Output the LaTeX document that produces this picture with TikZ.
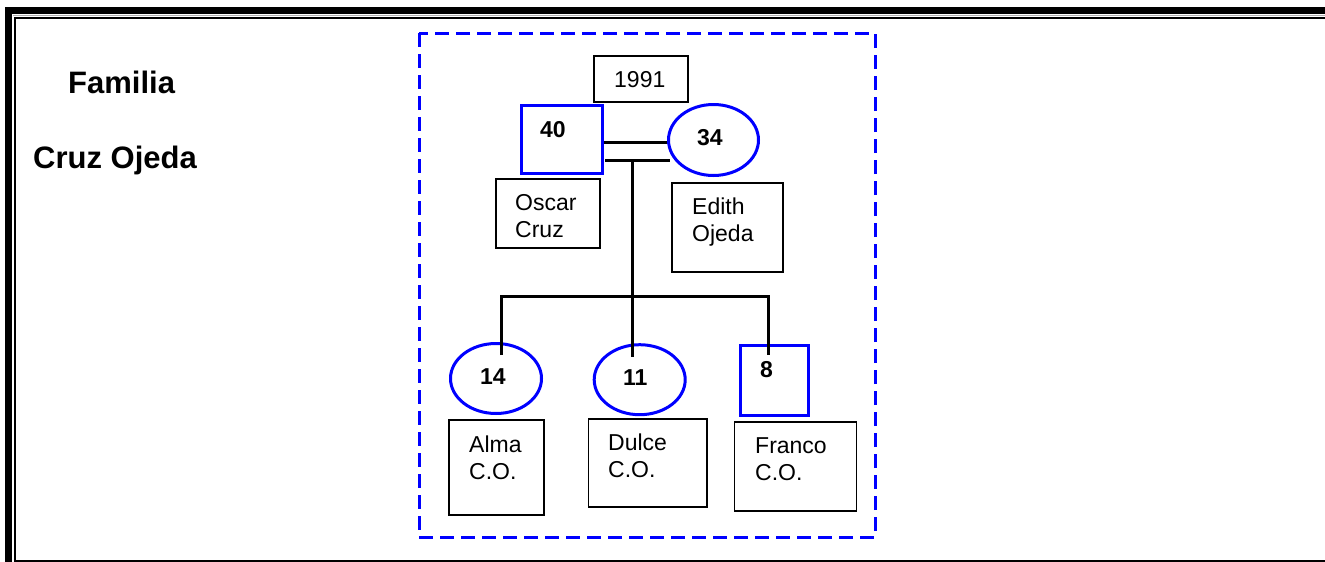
\documentclass[tikz,border=0pt]{standalone}
\usepackage{fontspec}
\setmainfont{Liberation Sans}
\usetikzlibrary{shapes.geometric}
\tikzset{
  namebox/.style={draw=black, line width=1.6pt, inner sep=0pt, anchor=north west},
  malebox/.style={draw=blue, line width=3pt, inner sep=0pt, anchor=north west},
  femaleoval/.style={draw=blue, line width=3pt, ellipse, inner sep=0pt},
  tag/.style={font=\fontsize{23}{27}\selectfont, anchor=base west, inner sep=0pt, align=left},
  age/.style={font=\fontsize{23}{27}\selectfont\bfseries, anchor=base west, inner sep=0pt},
  title/.style={font=\fontsize{31}{36}\selectfont\bfseries, anchor=base west, inner sep=0pt},
  link/.style={draw=black, line width=3pt},
  frame/.style={draw=blue, line width=3pt, dash pattern=on 14pt off 7pt},
}
\begin{document}
\begin{tikzpicture}[x=1pt,y=-1pt]
\clip (0,0) rectangle (1325,562);
\fill[white] (0,0) rectangle (1325,562);
% outer page border
\fill[black] (5,7) rectangle (1325,14);
\fill[black] (5,7) rectangle (12,562);
\draw[gray!60, line width=1pt] (12.8,15.2) -- (1325,15.2);
\draw[black, line width=2.2pt] (1330,17.8) -- (14.8,17.8) -- (14.8,560.6) -- (1330,560.6);
% titles
\node[title] (fam) at (68,93) {Familia};
\node[title] (cruz) at (33,168) {Cruz Ojeda};
% dashed frame
\draw[frame] (419,33) rectangle (875,537);
% year
\node[namebox, minimum width=94pt, minimum height=46pt] (yearbox) at (593,55) {};
\node[tag] (year) at (614,87) {1991};
% parents
\node[malebox, minimum width=81pt, minimum height=68pt] (m40) at (519.5,103.5) {};
\node[age] (a40) at (540,137) {40};
\node[femaleoval, minimum width=90pt, minimum height=71pt] (f34) at (713.5,140) {};
\node[age] (a34) at (697,145) {34};
\node[namebox, minimum width=104pt, minimum height=69pt] (oscarbox) at (495,178) {};
\node[tag] (oscar) at (515,237) {Oscar\\Cruz};
\node[namebox, minimum width=111pt, minimum height=89pt] (edithbox) at (671,182) {};
\node[tag] (edith) at (692,241) {Edith\\Ojeda};
% children
\node[femaleoval, minimum width=91pt, minimum height=70pt] (f14) at (496,378.5) {};
\node[age] (a14) at (480,384) {14};
\node[femaleoval, minimum width=91pt, minimum height=70pt] (f11) at (639.7,379.7) {};
\node[age] (a11) at (623,385) {11};
\node[malebox, minimum width=68pt, minimum height=70pt] (m8) at (738.5,343.5) {};
\node[age] (a8) at (760,377) {8};
\node[namebox, minimum width=95pt, minimum height=95pt] (almabox) at (448,419) {};
\node[tag] (alma) at (469,479) {Alma\\C.O.};
\node[namebox, minimum width=118.5pt, minimum height=88pt] (dulcebox) at (587.5,418) {};
\node[tag] (dulce) at (608,477) {Dulce\\C.O.};
\node[namebox, minimum width=122pt, minimum height=89pt] (francobox) at (733.5,421) {};
\node[tag] (franco) at (755,480) {Franco\\C.O.};
% connectors
\coordinate (u) at (0,142);
\draw[link] (m40.east |- u) -- (f34.west |- u);
\coordinate (c1) at (605,160);
\coordinate (c2) at (670,160);
\draw[link] (c1) -- (c2);
\coordinate (mar) at (632,160);
\coordinate (sib) at (632,296);
\coordinate (sibL) at (501,296);
\coordinate (sibR) at (768,296);
\coordinate (e14) at (501,355);
\coordinate (e11) at (632,357);
\coordinate (e8) at (768,355);
\draw[link] (mar) -- (e11);
\draw[link, line join=miter] (e14) -- (sibL) -- (sibR) -- (e8);
\end{tikzpicture}
\end{document}
